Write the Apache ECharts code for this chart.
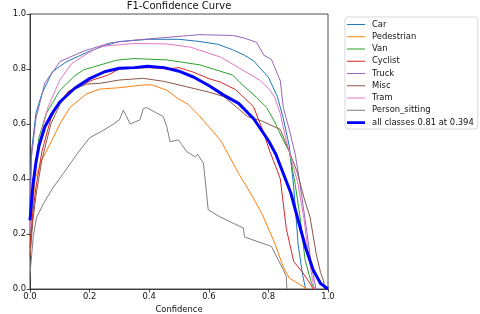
<!DOCTYPE html>
<html>
<head>
<meta charset="utf-8">
<script src="https://cdn.jsdelivr.net/npm/echarts@6/dist/echarts.min.js"></script>
<style>html,body{margin:0;padding:0;background:#fff}#c{width:480px;height:314px}</style>
</head>
<body>
<div id="c"></div>
<script>
const xTicks = [0, 0.2, 0.4, 0.6, 0.8, 1.0];
const yTicks = [0, 0.2, 0.4, 0.6, 0.8, 1.0];
const seriesNames = ['Car','Pedestrian','Van','Cyclist','Truck','Misc','Tram','Person_sitting','all classes 0.81 at 0.394'];

// [confidence, F1]
const car = [[0,0.3],[0.005,0.5],[0.02,0.64],[0.04,0.71],[0.075,0.79],[0.12,0.825],[0.19,0.86],[0.25,0.885],[0.3,0.9],[0.4,0.908],[0.5,0.908],[0.57,0.9],[0.63,0.89],[0.68,0.87],[0.72,0.85],[0.75,0.83],[0.8,0.77],[0.83,0.7],[0.85,0.62],[0.87,0.52],[0.885,0.37],[0.9,0.16],[0.915,0.05],[0.925,0]];
const pedestrian = [[0,0.12],[0.01,0.3],[0.017,0.4],[0.04,0.47],[0.078,0.55],[0.1,0.6],[0.134,0.66],[0.19,0.71],[0.235,0.727],[0.3,0.732],[0.38,0.742],[0.41,0.742],[0.46,0.722],[0.5,0.69],[0.53,0.672],[0.57,0.627],[0.6,0.59],[0.64,0.54],[0.7,0.42],[0.75,0.33],[0.78,0.27],[0.82,0.17],[0.85,0.08],[0.87,0.04],[0.9,0.02],[0.93,0]];
const van = [[0,0.2],[0.01,0.35],[0.02,0.46],[0.03,0.55],[0.054,0.637],[0.1,0.722],[0.15,0.775],[0.18,0.797],[0.29,0.832],[0.35,0.838],[0.46,0.833],[0.57,0.815],[0.68,0.778],[0.705,0.75],[0.76,0.697],[0.794,0.66],[0.82,0.61],[0.85,0.54],[0.87,0.5],[0.89,0.38],[0.906,0.264],[0.923,0.106],[0.945,0.02],[0.955,0]];
const cyclist = [[0,0.15],[0.01,0.28],[0.02,0.37],[0.04,0.5],[0.07,0.62],[0.1,0.68],[0.13,0.72],[0.21,0.76],[0.26,0.777],[0.3,0.8],[0.4,0.805],[0.46,0.8],[0.5,0.805],[0.55,0.788],[0.6,0.765],[0.64,0.752],[0.69,0.725],[0.75,0.663],[0.78,0.58],[0.805,0.5],[0.83,0.43],[0.84,0.4],[0.86,0.22],[0.885,0.1],[0.915,0.06],[0.94,0.02],[0.95,0]];
const truck = [[0,0.3],[0.005,0.48],[0.02,0.62],[0.05,0.75],[0.087,0.806],[0.1,0.827],[0.18,0.865],[0.27,0.895],[0.35,0.905],[0.46,0.915],[0.57,0.925],[0.68,0.922],[0.72,0.912],[0.76,0.897],[0.785,0.85],[0.81,0.835],[0.84,0.757],[0.85,0.66],[0.87,0.58],[0.89,0.49],[0.905,0.39],[0.93,0.2],[0.945,0.08],[0.96,0]];
const misc = [[0,0.12],[0.01,0.25],[0.02,0.34],[0.04,0.47],[0.07,0.6],[0.1,0.67],[0.134,0.72],[0.19,0.745],[0.235,0.748],[0.3,0.76],[0.38,0.766],[0.45,0.755],[0.5,0.742],[0.6,0.716],[0.65,0.7],[0.7,0.655],[0.73,0.627],[0.78,0.61],[0.84,0.58],[0.87,0.5],[0.895,0.43],[0.92,0.33],[0.94,0.26],[0.96,0.13],[0.975,0.06],[0.985,0.03],[0.99,0]];
const tram = [[0,0.2],[0.01,0.4],[0.03,0.53],[0.06,0.66],[0.1,0.76],[0.14,0.82],[0.19,0.855],[0.235,0.882],[0.35,0.893],[0.46,0.891],[0.54,0.879],[0.64,0.843],[0.7,0.805],[0.77,0.76],[0.8,0.73],[0.82,0.7],[0.84,0.637],[0.86,0.54],[0.88,0.46],[0.9,0.38],[0.92,0.25],[0.935,0.12],[0.95,0.02],[0.955,0]];
const personSitting = [[0,0.05],[0.002,0.08],[0.011,0.19],[0.022,0.26],[0.045,0.31],[0.078,0.37],[0.112,0.42],[0.157,0.49],[0.2,0.55],[0.235,0.57],[0.28,0.6],[0.3,0.615],[0.313,0.65],[0.324,0.627],[0.336,0.6],[0.369,0.615],[0.38,0.655],[0.391,0.66],[0.425,0.64],[0.447,0.627],[0.459,0.59],[0.47,0.536],[0.498,0.542],[0.526,0.5],[0.555,0.48],[0.562,0.49],[0.582,0.458],[0.598,0.288],[0.638,0.262],[0.68,0.24],[0.716,0.222],[0.72,0.189],[0.81,0.155],[0.85,0.07],[0.86,0.046],[0.862,0]];
const allClasses = [[0,0.25],[0.01,0.38],[0.02,0.46],[0.03,0.52],[0.05,0.59],[0.075,0.64],[0.1,0.68],[0.15,0.73],[0.2,0.765],[0.25,0.79],[0.3,0.803],[0.35,0.805],[0.394,0.81],[0.45,0.805],[0.5,0.792],[0.55,0.77],[0.6,0.74],[0.65,0.705],[0.7,0.675],[0.75,0.62],[0.8,0.54],[0.825,0.49],[0.85,0.42],[0.875,0.35],[0.9,0.25],[0.925,0.15],[0.95,0.07],[0.975,0.02],[1.0,0]];

const seriesData = [car, pedestrian, van, cyclist, truck, misc, tram, personSitting, allClasses];
const colors = ['#1f77b4','#ff7f0e','#2ca02c','#d62728','#9467bd','#8c564b','#e377c2','#7f7f7f','#0000ff'];

const thinIcon = 'path://M0,0L0.01,0L0,0.01Z M0,4.5L20,4.5L20,5.6L0,5.6Z M20,10L19.99,10L20,9.99Z';
const boldIcon = 'path://M0,0L0.01,0L0,0.01Z M0,3.5L20,3.5L20,6.6L0,6.6Z M20,10L19.99,10L20,9.99Z';

const FONT = 'DejaVu Sans';
const chart = echarts.init(document.getElementById('c'), null, {renderer: 'canvas'});
chart.setOption({
  animation: false,
  backgroundColor: '#fff',
  title: {
    text: 'F1-Confidence Curve', left: 179, top: 0, textAlign: 'center', padding: [1, 0, 0, 0],
    textStyle: {fontFamily: FONT, fontSize: 10, fontWeight: 'normal', color: '#111'}
  },
  legend: {
    orient: 'vertical', left: 345, top: 17,
    data: seriesNames.map((n, i) => ({name: n, icon: i === 8 ? boldIcon : thinIcon})),
    itemWidth: 18, itemHeight: 9, itemGap: 3.25,
    padding: [3, 4, 2, 2],
    borderColor: '#d9d9d9', borderWidth: 1, borderRadius: 3,
    textStyle: {fontFamily: FONT, fontSize: 8.4, color: '#111', padding: [0,0,0,2]}
  },
  grid: {left: 30, top: 14, width: 298, height: 275, show: true, borderColor: '#222', borderWidth: 0.8, containLabel: false, outerBoundsMode: 'none'},
  xAxis: {
    type: 'value', min: 0, max: 1, interval: 0.2,
    name: 'Confidence', nameLocation: 'middle', nameGap: 16,
    nameTextStyle: {fontFamily: FONT, fontSize: 8.4, color: '#111'},
    axisLine: {show: true, lineStyle: {color: '#222', width: 0.8}},
    axisTick: {show: true, inside: false, length: 3.5, lineStyle: {color: '#222', width: 0.8}},
    axisLabel: {fontFamily: FONT, fontSize: 8.4, color: '#111', margin: 4, formatter: v => v.toFixed(1)},
    splitLine: {show: false}
  },
  yAxis: {
    type: 'value', min: 0, max: 1, interval: 0.2,
    name: 'F1', nameLocation: 'middle', nameGap: 25, nameRotate: 90,
    nameTextStyle: {fontFamily: FONT, fontSize: 8.4, color: '#111'},
    axisLine: {show: true, lineStyle: {color: '#222', width: 0.8}},
    axisTick: {show: true, inside: false, length: 3.5, lineStyle: {color: '#222', width: 0.8}},
    axisLabel: {fontFamily: FONT, fontSize: 8.4, color: '#111', margin: 4, formatter: v => v.toFixed(1)},
    splitLine: {show: false}
  },
  series: seriesData.map((d, i) => ({
    name: seriesNames[i],
    type: 'line',
    data: d,
    symbol: 'none',
    smooth: false,
    clip: true,
    color: colors[i],
    lineStyle: {color: colors[i], width: i === 8 ? 3 : 1},
    z: i === 8 ? 3 : 2
  }))
});
</script>
</body>
</html>
